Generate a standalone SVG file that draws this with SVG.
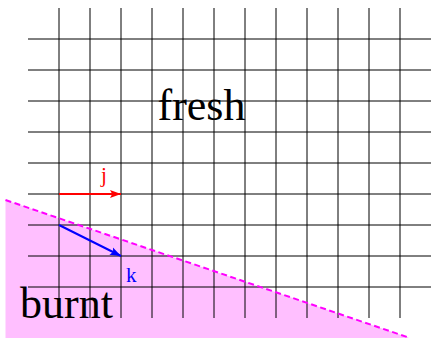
<svg xmlns="http://www.w3.org/2000/svg" width="431" height="338" viewBox="0 0 431 338">
<style>
.grid line{stroke:#000;stroke-width:1}
.lbl{font-family:"Liberation Serif","Times New Roman",serif}
.big{font-size:44px;fill:#000}
</style>
<defs>
<marker id="ahR" markerWidth="11" markerHeight="9" refX="11" refY="4.5" orient="auto" markerUnits="userSpaceOnUse">
<path d="M0,0.5 L11,4.5 L0,8.5 L2.2,4.5 Z" fill="#ff0000"/>
</marker>
<marker id="ahB" markerWidth="11" markerHeight="9" refX="11" refY="4.5" orient="auto" markerUnits="userSpaceOnUse">
<path d="M0,0.5 L11,4.5 L0,8.5 L2.2,4.5 Z" fill="#0000ff"/>
</marker>
</defs>
<rect width="431" height="338" fill="#fff"/>
<g id="burnt-region">
<polygon points="5.5,200 408.5,337.5 408.5,338 5.5,338" fill="#ffbfff"/>
</g>
<g id="grid" class="grid">
<line x1="28" y1="39" x2="431" y2="39"/>
<line x1="28" y1="70" x2="431" y2="70"/>
<line x1="28" y1="101" x2="431" y2="101"/>
<line x1="28" y1="132" x2="431" y2="132"/>
<line x1="28" y1="163" x2="431" y2="163"/>
<line x1="28" y1="194" x2="431" y2="194"/>
<line x1="28" y1="225" x2="431" y2="225"/>
<line x1="28" y1="256" x2="431" y2="256"/>
<line x1="28" y1="287" x2="431" y2="287"/>
<line x1="59" y1="8" x2="59" y2="318"/>
<line x1="90" y1="8" x2="90" y2="318"/>
<line x1="121" y1="8" x2="121" y2="318"/>
<line x1="152" y1="8" x2="152" y2="318"/>
<line x1="183" y1="8" x2="183" y2="318"/>
<line x1="214" y1="8" x2="214" y2="318"/>
<line x1="245" y1="8" x2="245" y2="318"/>
<line x1="276" y1="8" x2="276" y2="318"/>
<line x1="307" y1="8" x2="307" y2="318"/>
<line x1="338" y1="8" x2="338" y2="318"/>
<line x1="369" y1="8" x2="369" y2="318"/>
<line x1="400" y1="8" x2="400" y2="318"/>
</g>
<g id="connectors">
<line id="front" x1="5.5" y1="200" x2="408.5" y2="337.5" stroke="#ff00ff" stroke-width="2" stroke-dasharray="6 3.5"/>
<line id="j-arrow" x1="59" y1="194" x2="121" y2="194" stroke="#ff0000" stroke-width="2" marker-end="url(#ahR)"/>
<line id="k-arrow" x1="59" y1="225" x2="121" y2="256" stroke="#0000ff" stroke-width="2" marker-end="url(#ahB)"/>
</g>
<g id="label-j"><text class="lbl" x="104" y="181.5" font-size="21" fill="#ff0000" text-anchor="middle">j</text></g>
<g id="label-k"><text class="lbl" x="126" y="281.7" font-size="21" fill="#0000ff">k</text></g>
<g id="label-fresh"><text class="lbl big" x="157.5" y="119.5">fresh</text></g>
<g id="label-burnt"><text class="lbl big" x="20" y="317.5">burnt</text></g>
</svg>
